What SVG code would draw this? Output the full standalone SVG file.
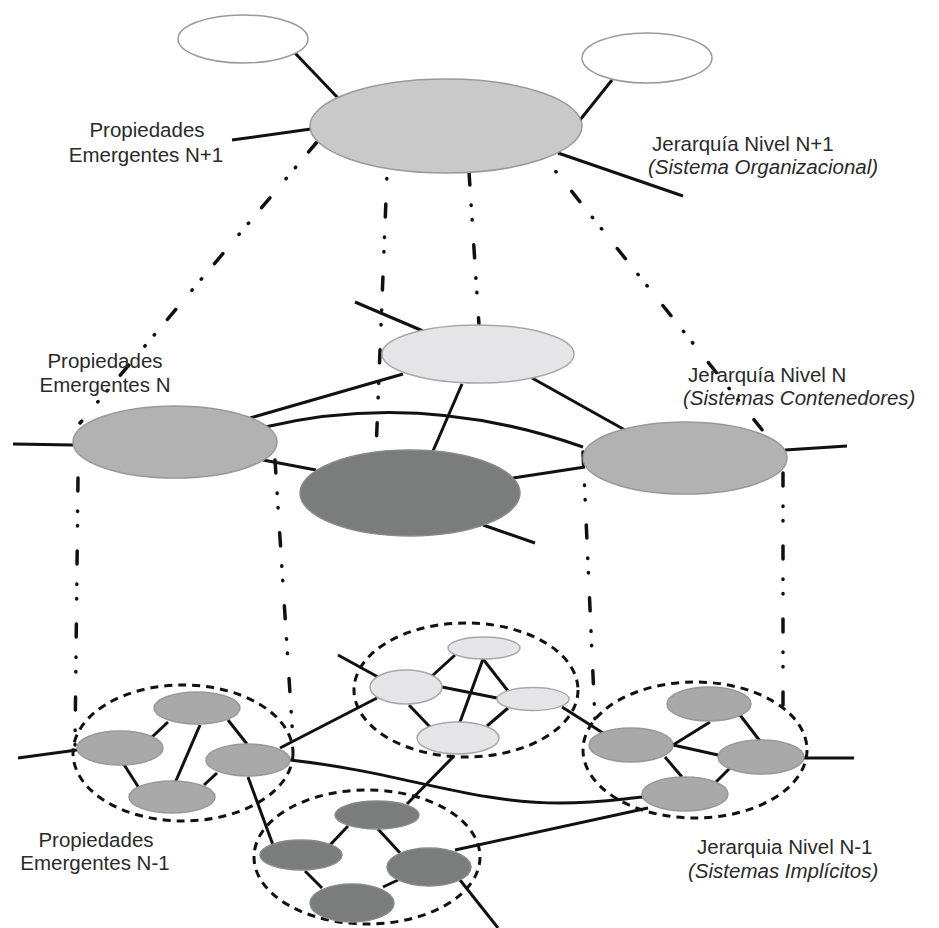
<svg xmlns="http://www.w3.org/2000/svg" width="939" height="928" viewBox="0 0 939 928">
<style>
.lbl{font-family:"Liberation Sans",Arial,sans-serif;font-size:20.5px;fill:#2a2a2a}
.it{font-style:italic}
.ln{stroke:#111;stroke-width:3;fill:none;stroke-linecap:butt}
.dd{stroke:#111;stroke-width:3.5;fill:none;stroke-linecap:round;stroke-dasharray:13 20 0.5 14 0.5 25}
.grp{stroke:#111;stroke-width:3;fill:none;stroke-dasharray:8 6}
.wh{fill:#ffffff;stroke:#9a9a9a;stroke-width:1.5}
.top{fill:#c9c9c9;stroke:#9a9a9a;stroke-width:1.5}
.lt{fill:#e5e5e8;stroke:#a8a8a8;stroke-width:1.5}
.md{fill:#b2b2b2;stroke:#999;stroke-width:1.5}
.mg{fill:#a9a9a9;stroke:#999;stroke-width:1.5}
.dk{fill:#7b7d7d;stroke:#8a8a8a;stroke-width:1.5}
</style>
<rect width="939" height="928" fill="#ffffff"/>

<g id="connectors">
  <!-- level N+1 -->
  <line class="ln" x1="295" y1="53" x2="338" y2="98"/>
  <line class="ln" x1="612" y1="80" x2="580" y2="120"/>
  <line class="ln" x1="232" y1="140" x2="311" y2="129"/>
  <line class="ln" x1="558" y1="153" x2="683" y2="196"/>
  <!-- dash-dot projections N+1 -> N -->
  <line class="dd" x1="317" y1="142" x2="80" y2="423"/>
  <line class="dd" x1="387" y1="174" x2="376" y2="452" stroke-dashoffset="-30"/>
  <line class="dd" x1="469" y1="172" x2="479" y2="325"/>
  <line class="dd" x1="553" y1="168" x2="767" y2="436" stroke-dashoffset="-30"/>
  <!-- level N -->
  <line class="ln" x1="355" y1="302" x2="423" y2="331"/>
  <line class="ln" x1="403" y1="374" x2="250" y2="418"/>
  <path class="ln" d="M265,427 Q420,390 583,447"/>
  <line class="ln" x1="462" y1="384" x2="433" y2="451"/>
  <line class="ln" x1="532" y1="378" x2="625" y2="430"/>
  <line class="ln" x1="263" y1="460" x2="316" y2="470"/>
  <line class="ln" x1="513" y1="478" x2="585" y2="467"/>
  <line class="ln" x1="483" y1="525" x2="535" y2="543"/>
  <line class="ln" x1="13" y1="444" x2="73" y2="445"/>
  <line class="ln" x1="785" y1="450" x2="847" y2="446"/>
  <!-- dash-dot projections N -> N-1 -->
  <line class="dd" x1="78" y1="478" x2="75" y2="745"/>
  <line class="dd" x1="275" y1="460" x2="293" y2="740"/>
  <line class="dd" x1="583" y1="452" x2="595" y2="720"/>
  <line class="dd" x1="783" y1="473" x2="783" y2="712"/>
  <!-- level N-1: inter-cluster -->
  <line class="ln" x1="18" y1="758" x2="77" y2="750"/>
  <line class="ln" x1="280" y1="748" x2="377" y2="698"/>
  <path class="ln" d="M290,760 C400,772 470,803 560,803 C600,803 620,799 643,797"/>
  <line class="ln" x1="248" y1="777" x2="273" y2="845"/>
  <line class="ln" x1="338" y1="655" x2="378" y2="677"/>
  <line class="ln" x1="562" y1="707" x2="603" y2="733"/>
  <line class="ln" x1="453" y1="757" x2="407" y2="804"/>
  <line class="ln" x1="648" y1="808" x2="455" y2="850"/>
  <line class="ln" x1="803" y1="758" x2="854" y2="758"/>
  <line class="ln" x1="460" y1="880" x2="498" y2="928"/>
  <!-- left cluster internal -->
  <line class="ln" x1="152" y1="737" x2="168" y2="722"/>
  <line class="ln" x1="200" y1="725" x2="175" y2="783"/>
  <line class="ln" x1="228" y1="720" x2="247" y2="744"/>
  <line class="ln" x1="123" y1="763" x2="139" y2="788"/>
  <line class="ln" x1="204" y1="785" x2="217" y2="773"/>
  <!-- light cluster internal -->
  <line class="ln" x1="432" y1="676" x2="455" y2="655"/>
  <line class="ln" x1="483" y1="659" x2="460" y2="722"/>
  <line class="ln" x1="483" y1="659" x2="508" y2="691"/>
  <line class="ln" x1="442" y1="687" x2="497" y2="698"/>
  <line class="ln" x1="409" y1="705" x2="430" y2="727"/>
  <line class="ln" x1="487" y1="726" x2="508" y2="708"/>
  <!-- right cluster internal -->
  <line class="ln" x1="673" y1="745" x2="710" y2="722"/>
  <line class="ln" x1="740" y1="715" x2="760" y2="741"/>
  <line class="ln" x1="673" y1="745" x2="718" y2="755"/>
  <line class="ln" x1="665" y1="757" x2="682" y2="777"/>
  <line class="ln" x1="715" y1="783" x2="730" y2="768"/>
  <!-- dark cluster internal -->
  <line class="ln" x1="348" y1="826" x2="330" y2="845"/>
  <line class="ln" x1="378" y1="829" x2="400" y2="853"/>
  <line class="ln" x1="305" y1="871" x2="322" y2="888"/>
  <line class="ln" x1="383" y1="887" x2="398" y2="880"/>
</g>

<!-- level N+1 -->
<g id="n1-left"><ellipse class="wh" cx="243" cy="39" rx="65" ry="24"/></g>
<g id="n1-right"><ellipse class="wh" cx="647" cy="58" rx="65" ry="25"/></g>
<g id="n1-main"><ellipse class="top" cx="446" cy="126" rx="136" ry="47"/></g>

<!-- level N -->
<g id="n-light"><ellipse class="lt" cx="478" cy="354" rx="96" ry="29"/></g>
<g id="n-left"><ellipse class="md" cx="175" cy="442" rx="102" ry="36"/></g>
<g id="n-dark"><ellipse class="dk" cx="410" cy="493" rx="110" ry="43"/></g>
<g id="n-right"><ellipse class="md" cx="685" cy="458" rx="102" ry="36"/></g>

<!-- level N-1 clusters -->
<g id="c-left">
  <ellipse class="grp" cx="183" cy="753" rx="110" ry="68"/>
  <ellipse class="mg" cx="197" cy="708" rx="43" ry="16"/>
  <ellipse class="mg" cx="120" cy="748" rx="43" ry="17"/>
  <ellipse class="mg" cx="248" cy="760" rx="42" ry="16"/>
  <ellipse class="mg" cx="172" cy="797" rx="43" ry="16"/>
</g>
<g id="c-light">
  <ellipse class="grp" cx="466" cy="690" rx="112" ry="67"/>
  <ellipse class="lt" cx="484" cy="648" rx="36" ry="11"/>
  <ellipse class="lt" cx="406" cy="687" rx="36" ry="17"/>
  <ellipse class="lt" cx="533" cy="699" rx="36" ry="11.5"/>
  <ellipse class="lt" cx="458" cy="738" rx="41" ry="16"/>
</g>
<g id="c-right">
  <ellipse class="grp" cx="695" cy="750" rx="112" ry="68"/>
  <ellipse class="mg" cx="709" cy="704" rx="42" ry="17"/>
  <ellipse class="mg" cx="631" cy="745" rx="42" ry="17"/>
  <ellipse class="mg" cx="761" cy="757" rx="43" ry="17"/>
  <ellipse class="mg" cx="685" cy="794" rx="43" ry="17"/>
</g>
<g id="c-dark">
  <ellipse class="grp" cx="367" cy="857" rx="113" ry="67"/>
  <ellipse class="dk" cx="377" cy="815" rx="42" ry="14"/>
  <ellipse class="dk" cx="301" cy="855" rx="41" ry="15"/>
  <ellipse class="dk" cx="429" cy="867" rx="42" ry="19"/>
  <ellipse class="dk" cx="352" cy="903" rx="42" ry="19"/>
</g>

<!-- labels -->
<g id="lbl-prop-n1">
  <text class="lbl" x="147" y="137" text-anchor="middle">Propiedades</text>
  <text class="lbl" x="146" y="162" text-anchor="middle">Emergentes N+1</text>
</g>
<g id="lbl-jer-n1">
  <text class="lbl" x="652" y="151">Jerarquía Nivel N+1</text>
  <text class="lbl it" x="648" y="174">(Sistema Organizacional)</text>
</g>
<g id="lbl-prop-n">
  <text class="lbl" x="105" y="368" text-anchor="middle">Propiedades</text>
  <text class="lbl" x="105" y="392" text-anchor="middle">Emergentes N</text>
</g>
<g id="lbl-jer-n">
  <text class="lbl" x="688" y="382">Jerarquía Nivel N</text>
  <text class="lbl it" x="683" y="405">(Sistemas Contenedores)</text>
</g>
<g id="lbl-prop-n-1">
  <text class="lbl" x="96" y="847" text-anchor="middle">Propiedades</text>
  <text class="lbl" x="95" y="870" text-anchor="middle">Emergentes N-1</text>
</g>
<g id="lbl-jer-n-1">
  <text class="lbl" x="697" y="854">Jerarquia Nivel N-1</text>
  <text class="lbl it" x="688" y="878">(Sistemas Implícitos)</text>
</g>
</svg>
